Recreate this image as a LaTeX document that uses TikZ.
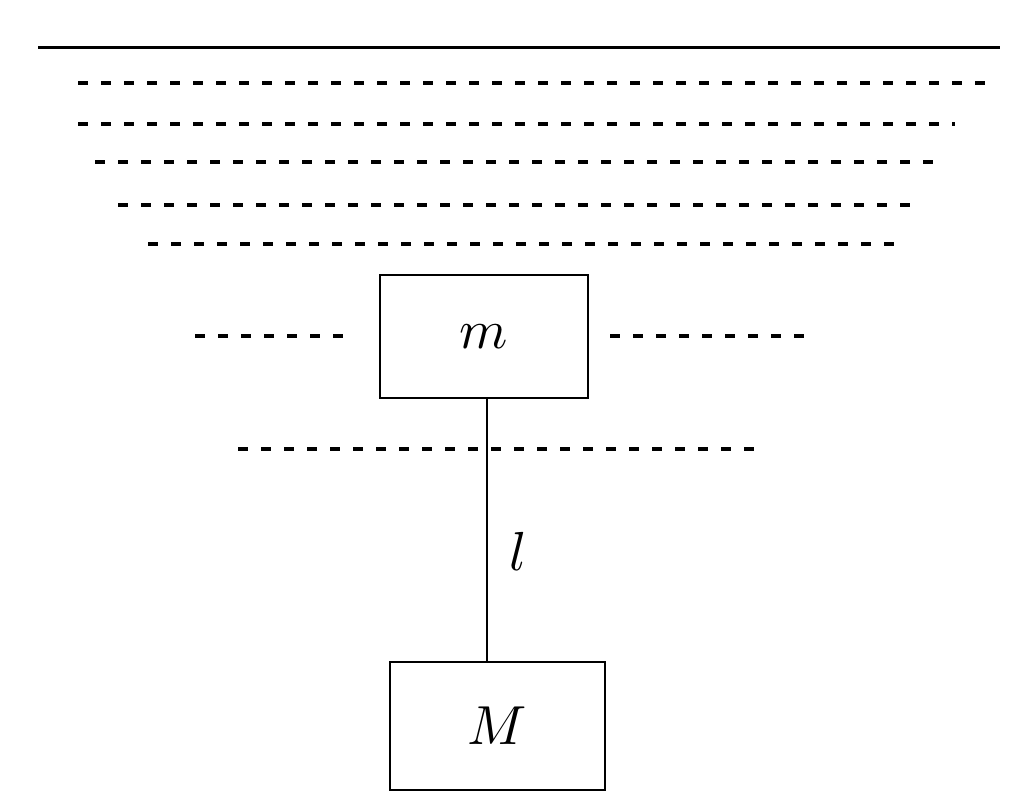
\documentclass[tikz,border=0pt]{standalone}
\begin{document}
\begin{tikzpicture}[x=1pt,y=-1pt,
  wat/.style={line width=3.5pt,dash pattern=on 10pt off 13pt},
  blk/.style={draw,line width=2.5pt,inner sep=0pt}]
\useasboundingbox (0,0) rectangle (1032,800);
\draw[line width=3pt] (38,48) -- (1000,48);
\draw[wat] (78,83) -- (995,83);
\draw[wat] (78,124) -- (955,124);
\draw[wat] (95,162) -- (935,162);
\draw[wat] (118,205) -- (910,205);
\draw[wat] (148,244) -- (895,244);
\draw[wat] (195,336) -- (355,336);
\draw[wat] (610,336) -- (815,336);
\draw[wat] (238,449) -- (760,449);
\node[blk,minimum width=208pt,minimum height=123pt] (m) at (484,336.5) {\scalebox{5.5}{$m$}};
\node[blk,minimum width=215pt,minimum height=128pt] (M) at (497.5,726) {\scalebox{5.5}{$M$}};
\draw[line width=2.5pt] (m.south -| 487,0) -- (M.north -| 487,0) node[pos=0.58,right=18pt] (l) {\scalebox{5.5}{$l$}};
\end{tikzpicture}
\end{document}
